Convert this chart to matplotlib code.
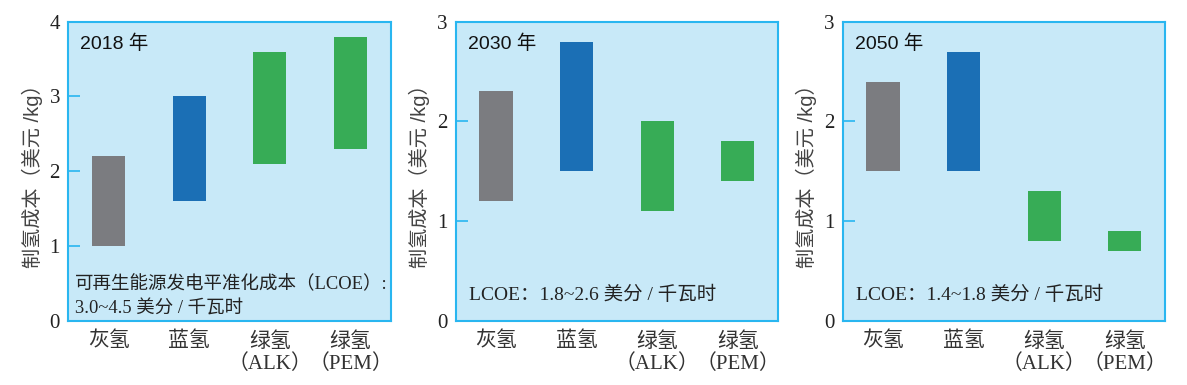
import matplotlib.pyplot as plt
from matplotlib.patches import Rectangle

W, H = 1187, 385

categories = ['灰氢', '蓝氢', '绿氢\n（ALK）', '绿氢\n（PEM）']
years = ['2018 年', '2030 年', '2050 年']
low = [
    [1.0, 1.6, 2.1, 2.3],
    [1.2, 1.5, 1.1, 1.4],
    [1.5, 1.5, 0.8, 0.7],
]
high = [
    [2.2, 3.0, 3.6, 3.8],
    [2.3, 2.8, 2.0, 1.8],
    [2.4, 2.7, 1.3, 0.9],
]
ymax = [4, 3, 3]
lcoe_notes = [
    '可再生能源发电平准化成本（LCOE）:\n3.0~4.5 美分 / 千瓦时',
    'LCOE：1.8~2.6 美分 / 千瓦时',
    'LCOE：1.4~1.8 美分 / 千瓦时',
]
bar_colors = ['#7b7c80', '#1b6fb5', '#37ac56', '#37ac56']

bg = '#c8e9f8'
edge = '#29b6f0'
serif = ['Liberation Serif', 'Noto Sans CJK SC']
sans = ['Liberation Sans', 'Noto Sans CJK SC']

fig = plt.figure(figsize=(W / 100, H / 100), dpi=100)
lefts = [68.3, 455.7, 842.7]
ax_w, ax_top, ax_bot = 322.5, 21.7, 320.7

for i in range(3):
    ax = fig.add_axes([lefts[i] / W, (H - ax_bot) / H, ax_w / W, (ax_bot - ax_top) / H])
    ax.set_facecolor(bg)
    for s in ax.spines.values():
        s.set_color(edge)
        s.set_linewidth(1.5)
    for j in range(4):
        ax.add_patch(Rectangle((j + 0.5 - 0.205, low[i][j]), 0.41, high[i][j] - low[i][j],
                               facecolor=bar_colors[j], edgecolor='none'))
    ax.set_xlim(0, 4)
    ax.set_ylim(0, ymax[i])
    ax.set_yticks(range(ymax[i] + 1))
    ax.set_yticklabels([str(v) for v in range(ymax[i] + 1)], family=serif, fontsize=15, color='#222222')
    ax.tick_params(axis='y', direction='in', length=8.5, width=1.2, color=edge, pad=6)
    ax.set_xticks([0.5, 1.5, 2.5, 3.5])
    ax.set_xticklabels(categories, family=serif, fontsize=15, color='#333333', linespacing=1.2)
    ax.tick_params(axis='x', length=0, pad=8)
    ax.set_ylabel('制氢成本（美元 /kg）', family=sans, fontsize=14.5, color='#444444', labelpad=5)

    ax.text(0.037, 0.925, years[i], transform=ax.transAxes, family=sans, fontsize=14,
            color='#111111', va='center', ha='left')
    if i == 0:
        ax.text(0.02, 0.012, lcoe_notes[i], transform=ax.transAxes, family=serif, fontsize=13.3,
                color='#222222', va='bottom', ha='left', linespacing=1.5)
    else:
        ax.text(0.04, 0.085, lcoe_notes[i], transform=ax.transAxes, family=serif, fontsize=14,
                color='#222222', va='center', ha='left')

fig.savefig('out.png', dpi=100)
